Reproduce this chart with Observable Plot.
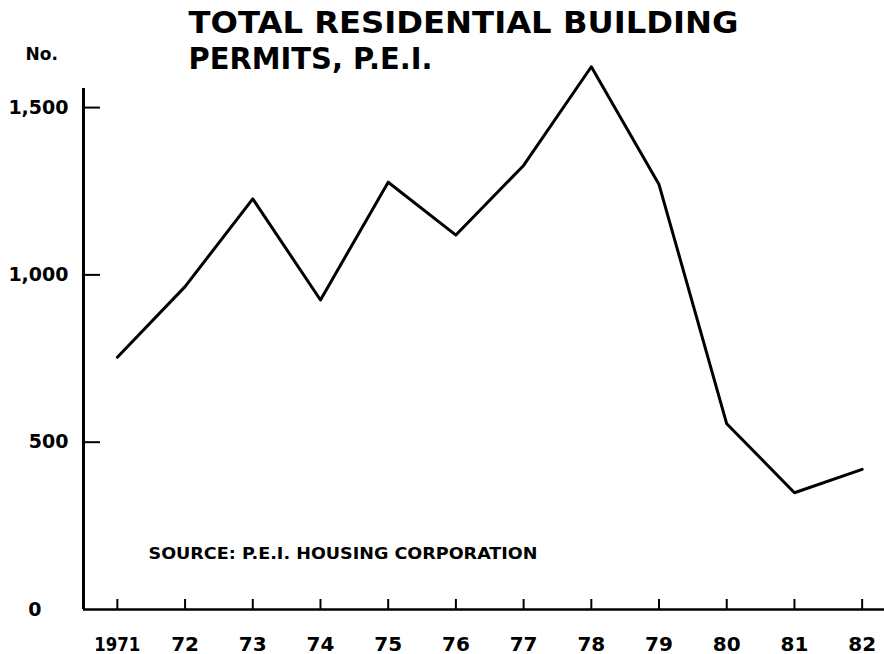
<!DOCTYPE html>
<html><head><meta charset="utf-8">
<script src="https://cdn.jsdelivr.net/npm/d3@7"></script>
<script src="https://cdn.jsdelivr.net/npm/@observablehq/plot@0.6"></script>
<style>body{margin:0;background:#fff}</style>
</head><body><div id="chart"></div>
<script>
const years = [1971, 1972, 1973, 1974, 1975, 1976, 1977, 1978, 1979, 1980, 1981, 1982];
const permits = [754, 965, 1227, 925, 1277, 1119, 1327, 1622, 1270, 555, 349, 419];
const yearLabels = ["1971", "72", "73", "74", "75", "76", "77", "78", "79", "80", "81", "82"];
const yTicks = [0, 500, 1000, 1500];
const titleLines = ["TOTAL RESIDENTIAL BUILDING", "PERMITS, P.E.I."];
const yUnit = "No.";
const source = "SOURCE: P.E.I. HOUSING CORPORATION";

const data = years.map((year, i) => ({year, permits: permits[i]}));
const font = "'DejaVu Sans', sans-serif";
const W = 884, H = 654, mL = 83, mT = 88, mB = 45, mR = 0;
const frameW = W - mL - mR, frameH = H - mT - mB;
const labelOf = d => yearLabels[years.indexOf(d)];

const chart = Plot.plot({
  width: W, height: H,
  marginLeft: mL, marginRight: mR, marginTop: mT, marginBottom: mB,
  style: {fontFamily: font, fontWeight: "bold", background: "#fff", color: "#000", overflow: "visible"},
  x: {domain: [1970.5, 1982.33]},
  y: {domain: [0, 1557]},
  marks: [
    Plot.axisX({ticks: years, tickSize: 0, tickPadding: 27, fontSize: 20, tickFormat: labelOf, label: null}),
    Plot.axisY({ticks: yTicks.filter(d => d > 0), tickSize: 0, tickPadding: 15, fontSize: 19, tickFormat: d3.format(","), label: null}),
    Plot.axisY({ticks: yTicks.filter(d => d === 0), tickSize: 0, tickPadding: 42, fontSize: 19, tickFormat: d3.format(","), label: null}),
    Plot.tickX(years, {x: d => d, insetTop: frameH - 10, strokeWidth: 2}),
    Plot.tickY(yTicks.filter(d => d > 0), {y: d => d, insetRight: frameW - 17, strokeWidth: 2}),
    Plot.ruleX([1970.5], {strokeWidth: 3}),
    Plot.ruleY([0], {strokeWidth: 2.5}),
    Plot.line(data, {x: "year", y: "permits", stroke: "#000", strokeWidth: 3}),
    Plot.text([titleLines[0]], {frameAnchor: "top-left", textAnchor: "start", lineAnchor: "bottom", dx: 105, dy: -56, fontSize: 30, fontWeight: "bold"}),
    Plot.text([titleLines[1]], {frameAnchor: "top-left", textAnchor: "start", lineAnchor: "bottom", dx: 105, dy: -20, fontSize: 30, fontWeight: "bold"}),
    Plot.text([yUnit], {frameAnchor: "top-left", textAnchor: "start", lineAnchor: "bottom", dx: -58, dy: -29, fontSize: 17, fontWeight: "bold"}),
    Plot.text([source], {frameAnchor: "bottom-left", textAnchor: "start", lineAnchor: "bottom", dx: 65, dy: -51, fontSize: 16, fontWeight: "bold"})
  ]
});

const fit = (txt, len) => d3.select(chart).selectAll("text")
  .filter(function() { return this.textContent === txt; })
  .attr("textLength", len).attr("lengthAdjust", "spacingAndGlyphs");
fit(titleLines[0], 550);
fit(titleLines[1], 244);
fit(source, 389);
fit("1971", 46);

document.getElementById("chart").appendChild(chart);
</script>
</body></html>
